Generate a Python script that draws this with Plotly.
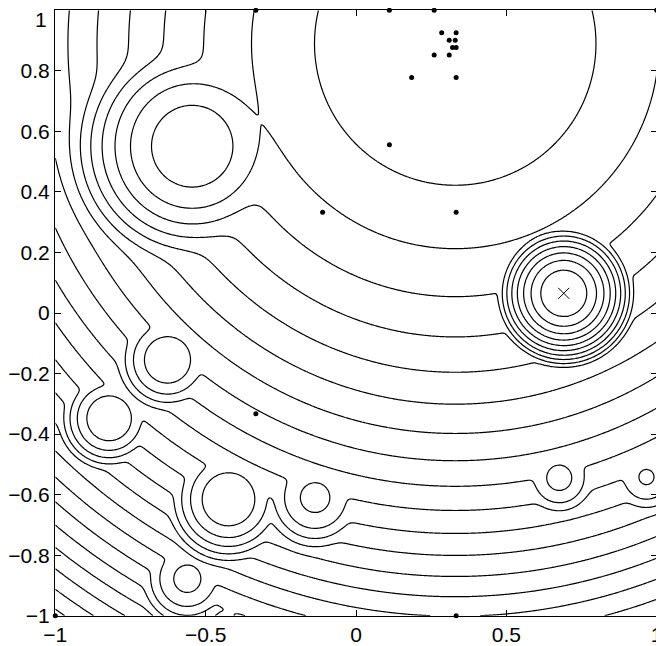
import numpy as np
import plotly.graph_objects as go

# main bowl centre
center_x = 0.33
center_y = 0.89

# local basins: centre, curvature, bottom value, softness of the join
well_x = [-0.545, 0.691, -0.627, -0.821, -0.424, -0.136, -0.561, 0.676, 0.966, -0.44]
well_y = [0.551, 0.065, -0.155, -0.348, -0.6155, -0.610, -0.878, -0.5446, -0.542, -1.03]
well_curv = [10.1, 40.0, 34.8, 42.0, 29.0, 30.4, 38.0, 48.0, 51.0, 40.0]
well_bottom = [0.035, -1.2146, 1.455, 2.149, 2.157, 2.066, 3.502, 1.816, 2.107, 3.995]
well_soft = [0.11, 0.04, 0.05, 0.05, 0.05, 0.05, 0.05, 0.05, 0.05, 0.05]

# sample points (dots)
pts_x = [-0.333, 0.111, 0.26, 1.0, -0.111, 0.333, 0.111, 0.185, 0.333, 0.26,
         0.31, 0.285, 0.333, 0.31, 0.33, 0.321, 0.333, -0.333, -1.0, 0.333]
pts_y = [1.0, 1.0, 1.0, 1.0, 0.333, 0.333, 0.556, 0.778, 0.778, 0.852,
         0.852, 0.926, 0.926, 0.901, 0.901, 0.877, 0.877, -0.333, -1.0, -1.0]

# global minimum marker
min_x = [0.691]
min_y = [0.065]

level_start = 0.219 - 0.24 * 12
level_size = 0.24

x_ticks = [-1, -0.5, 0, 0.5, 1]
x_labels = ["\u22121", "\u22120.5", "0", "0.5", "1"]
y_ticks = [-1, -0.8, -0.6, -0.4, -0.2, 0, 0.2, 0.4, 0.6, 0.8, 1]
# top label "1" would fall outside the page, it is drawn as an annotation
y_labels = ["\u22121", "\u22120.8", "\u22120.6", "\u22120.4", "\u22120.2", "0",
            "0.2", "0.4", "0.6", "0.8", ""]


def smooth_min(a, b, t):
    m = np.minimum(a, b)
    return m - t * np.log1p(np.exp(-np.abs(a - b) / t))


n = 401
gx = np.linspace(-1, 1, n)
gy = np.linspace(-1, 1, n)
X, Y = np.meshgrid(gx, gy)
Z = (X - center_x) ** 2 + (Y - center_y) ** 2
for wx, wy, k, zb, t in zip(well_x, well_y, well_curv, well_bottom, well_soft):
    g = zb + k * ((X - wx) ** 2 + (Y - wy) ** 2)
    Z = smooth_min(Z, g, t)

fig = go.Figure()
fig.add_trace(
    go.Contour(
        x=gx,
        y=gy,
        z=Z,
        autocontour=False,
        contours=dict(start=level_start, end=level_start + 40 * level_size,
                      size=level_size, coloring="lines"),
        colorscale=[[0, "black"], [1, "black"]],
        line=dict(width=1.2),
        showscale=False,
        hoverinfo="skip",
    )
)
fig.add_trace(
    go.Scatter(
        x=pts_x, y=pts_y, mode="markers",
        marker=dict(size=5, color="black"),
        cliponaxis=False,
    )
)
fig.add_trace(
    go.Scatter(
        x=min_x, y=min_y, mode="markers",
        marker=dict(symbol="x-thin-open", size=11, color="black",
                    line=dict(color="black", width=1)),
    )
)

tick_font = dict(family="Liberation Sans, Arial", size=21, color="black")
axis_style = dict(
    range=[-1.001, 1.001],
    showline=True, linecolor="black", linewidth=1, mirror="allticks",
    ticks="inside", ticklen=6, tickcolor="black",
    showgrid=False, zeroline=False, automargin=False,
    ticklabeloverflow="allow",
    tickfont=tick_font,
)
# the page adds an 8px body margin, so the figure is sized to leave room for it
fig.update_layout(
    width=656,
    height=638,
    margin=dict(l=47, r=7, t=2, b=30),
    plot_bgcolor="white",
    paper_bgcolor="white",
    showlegend=False,
    xaxis=dict(axis_style, tickvals=x_ticks, ticktext=x_labels),
    yaxis=dict(axis_style, tickvals=y_ticks, ticktext=y_labels),
)
fig.add_annotation(
    text="1", x=0, y=1, xref="paper", yref="paper",
    xanchor="right", yanchor="top", xshift=-6, yshift=4,
    showarrow=False, font=tick_font,
)
fig.write_html("out.html")
